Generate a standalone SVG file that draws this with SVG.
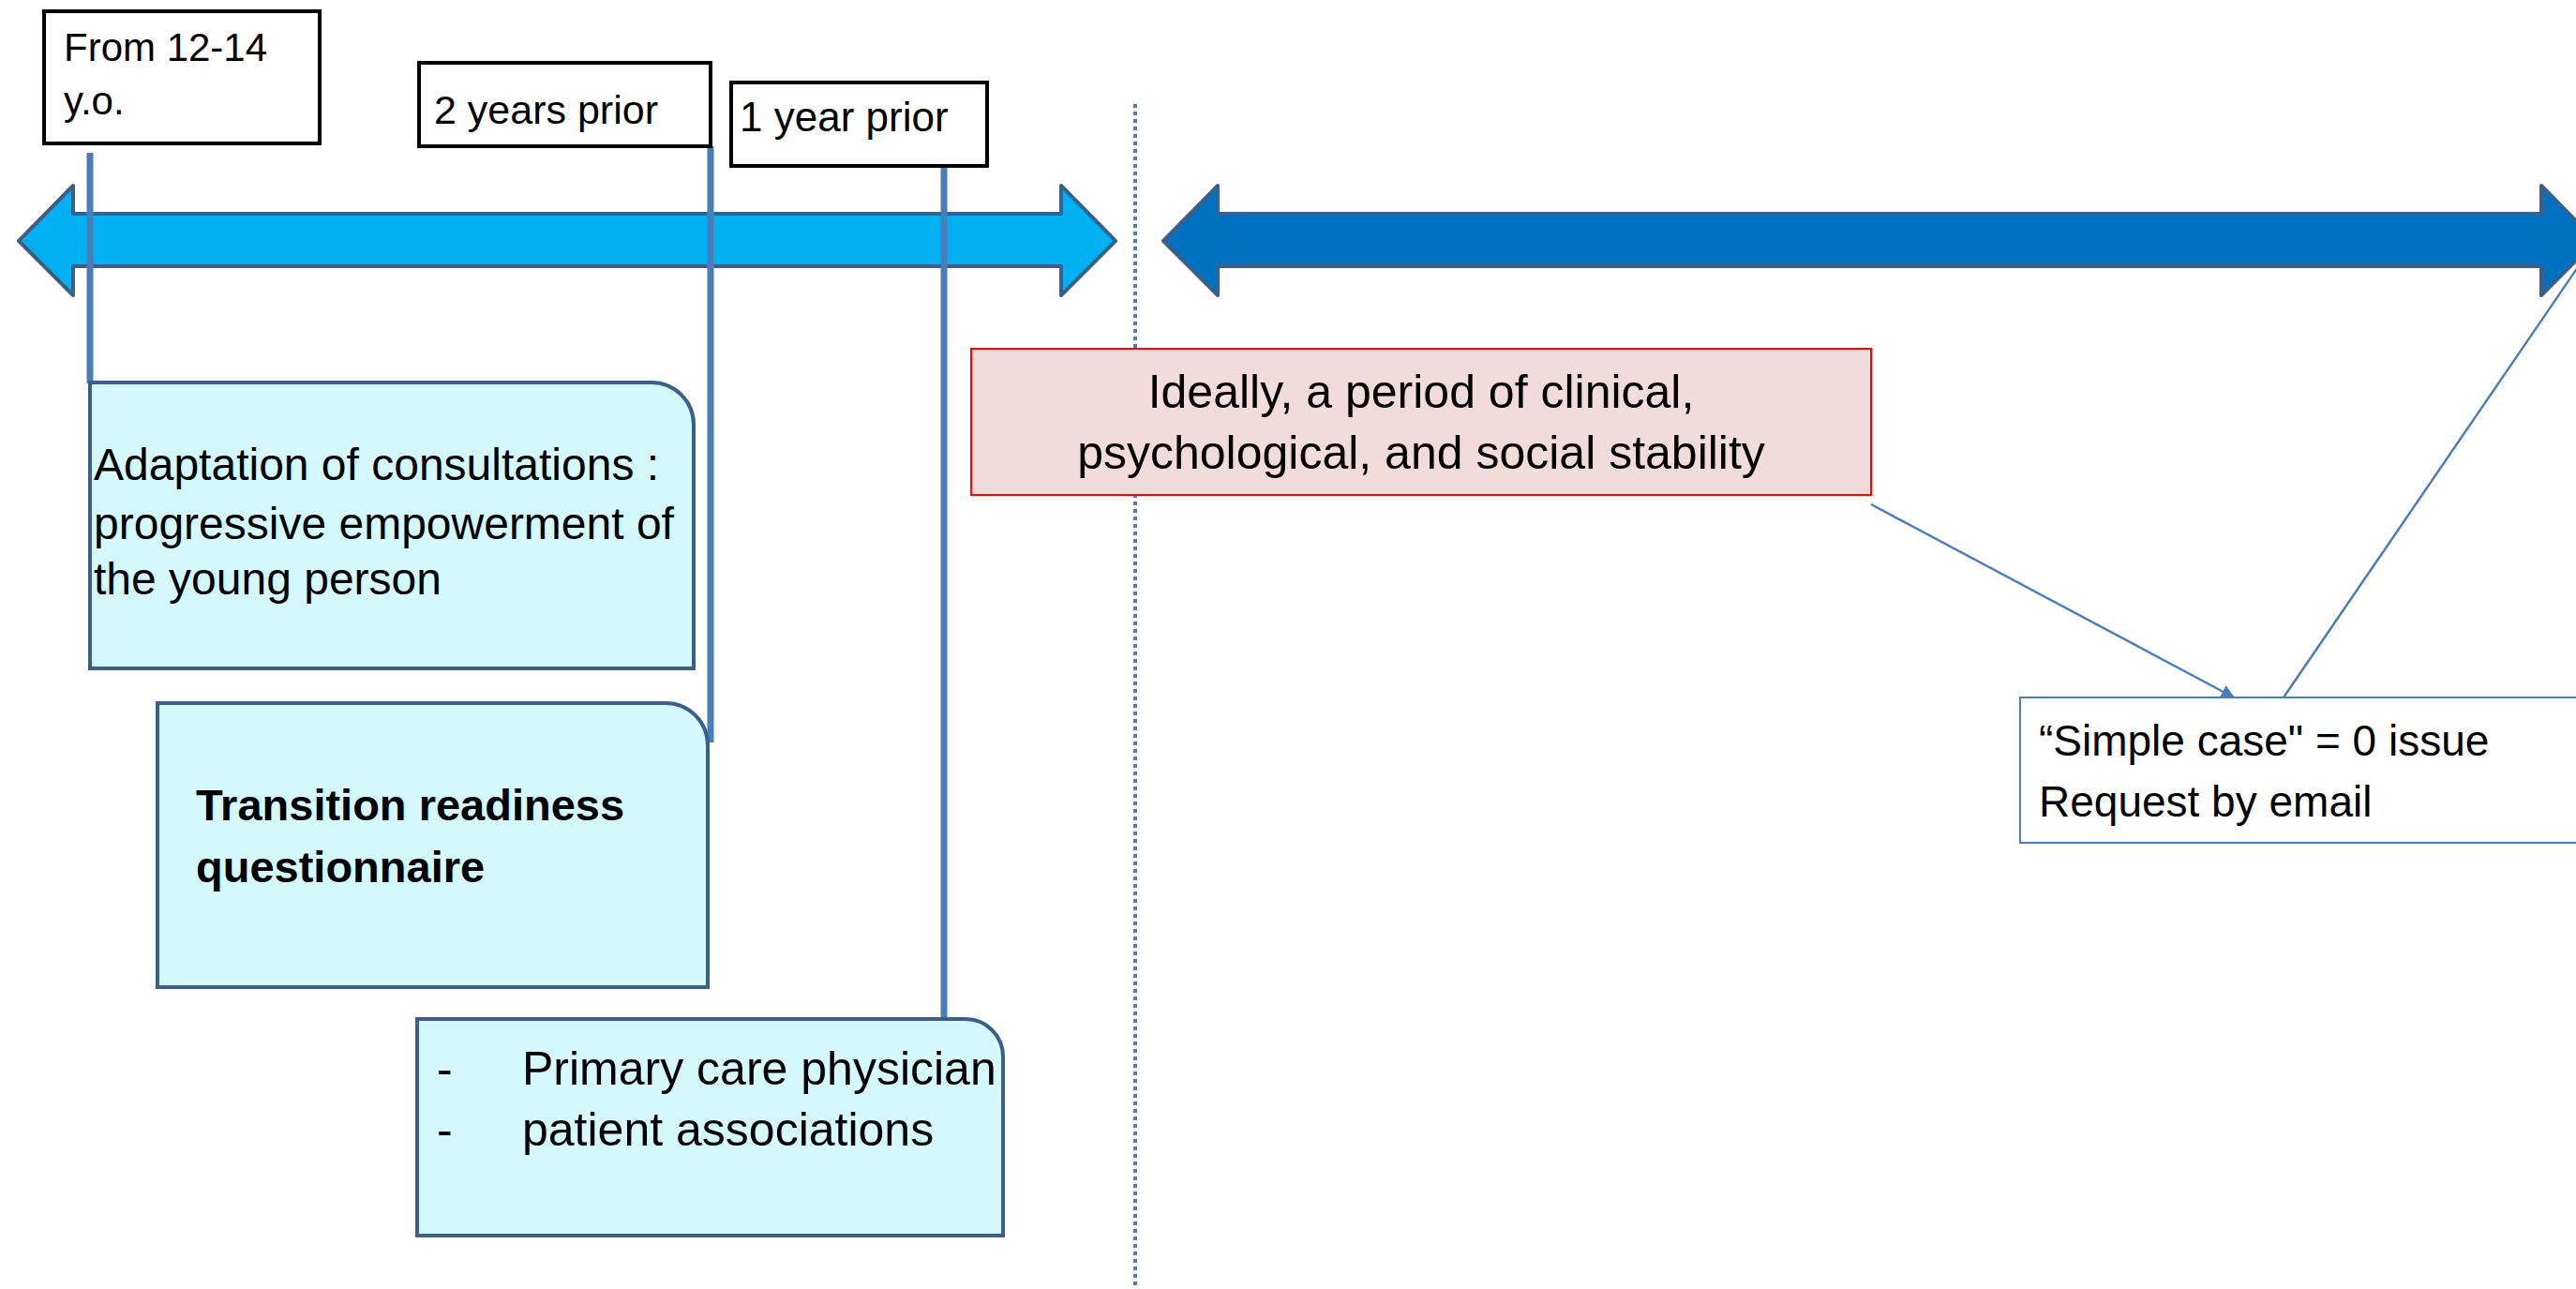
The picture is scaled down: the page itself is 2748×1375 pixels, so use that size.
<svg xmlns="http://www.w3.org/2000/svg" width="2748" height="1375" viewBox="0 0 2748 1375">
<defs>
<style>
text{font-family:"Liberation Sans",Arial,sans-serif;fill:#000}
.lbl{fill:#fff;stroke:#000;stroke-width:4}
.card{fill:#D5F8FC;stroke:#3A5F8B;stroke-width:4}
.arrow{stroke:#3A5F8B;stroke-width:4;stroke-linejoin:round}
.vline{stroke:#4A7EBB;stroke-width:7;fill:none}
.conn{stroke:#4A7EBB;stroke-width:2.5;fill:none}
</style>
<marker id="ah" viewBox="0 0 10 10" refX="9" refY="5" markerWidth="6" markerHeight="6" markerUnits="strokeWidth" orient="auto">
<path d="M0,0 L10,5 L0,10 z" fill="#4A7EBB"/>
</marker>
</defs>
<rect width="2748" height="1375" fill="#fff"/>
<line x1="1211" y1="111" x2="1211" y2="1372" stroke="#4A7EBB" stroke-width="4" stroke-dasharray="4 4"/>
<g id="arrow-light">
<polygon class="arrow" fill="#00B0F0" points="20,257 78,198 78,228 1132,228 1132,198 1190,257 1132,315 1132,284 78,284 78,315"/>
</g>
<g id="arrow-dark">
<polygon class="arrow" fill="#0070C0" points="1241,257 1299,198 1299,228 2711,228 2711,198 2769,257 2711,315 2711,284 1299,284 1299,315"/>
</g>
<g id="connectors">
<line class="vline" x1="96" y1="163" x2="96" y2="409"/>
<line class="vline" x1="758" y1="156" x2="758" y2="792"/>
<line class="vline" x1="1007" y1="177" x2="1007" y2="1089"/>
<line class="conn" x1="1996" y1="538" x2="2383" y2="744" marker-end="url(#ah)"/>
<line class="conn" x1="2436" y1="744" x2="2765" y2="263"/>
</g>
<g id="from-12-14">
<rect class="lbl" x="47" y="12" width="294" height="141"/>
<text x="68" y="65" font-size="42">From 12-14</text>
<text x="68" y="122" font-size="42">y.o.</text>
</g>
<g id="two-years">
<rect class="lbl" x="447" y="67" width="311" height="89"/>
<text x="463" y="132" font-size="43">2 years prior</text>
</g>
<g id="one-year">
<rect class="lbl" x="780" y="88" width="273" height="89"/>
<text x="789" y="140" font-size="44">1 year prior</text>
</g>
<g id="adaptation">
<path class="card" d="M96,408 H695 A45,45 0 0 1 740,453 V713 H96 Z"/>
<text x="100" y="512" font-size="48">Adaptation of consultations :</text>
<text x="100" y="575" font-size="48">progressive empowerment of</text>
<text x="100" y="634" font-size="48">the young person</text>
</g>
<g id="questionnaire">
<path class="card" d="M168,750 H710 A45,45 0 0 1 755,795 V1053 H168 Z"/>
<text x="209" y="875" font-size="47" font-weight="bold">Transition readiness</text>
<text x="209" y="941" font-size="47" font-weight="bold">questionnaire</text>
</g>
<g id="contacts">
<path class="card" d="M445,1087 H1030 A40,40 0 0 1 1070,1127 V1318 H445 Z"/>
<text x="466" y="1157" font-size="50">-</text>
<text x="557" y="1157" font-size="50">Primary care physician</text>
<text x="466" y="1222" font-size="50">-</text>
<text x="557" y="1222" font-size="50">patient associations</text>
</g>
<g id="stability">
<rect x="1036" y="372" width="960" height="156" fill="#F2DCDB" stroke="#FF0000" stroke-width="2"/>
<text x="1516" y="435" font-size="50" text-anchor="middle">Ideally, a period of clinical,</text>
<text x="1516" y="500" font-size="50" text-anchor="middle">psychological, and social stability</text>
</g>
<g id="simple-case">
<rect x="2155" y="744" width="620" height="155" fill="#fff" stroke="#4A7EBB" stroke-width="2"/>
<text x="2175" y="806" font-size="46">“Simple case" = 0 issue</text>
<text x="2175" y="871" font-size="46">Request by email</text>
</g>
</svg>
